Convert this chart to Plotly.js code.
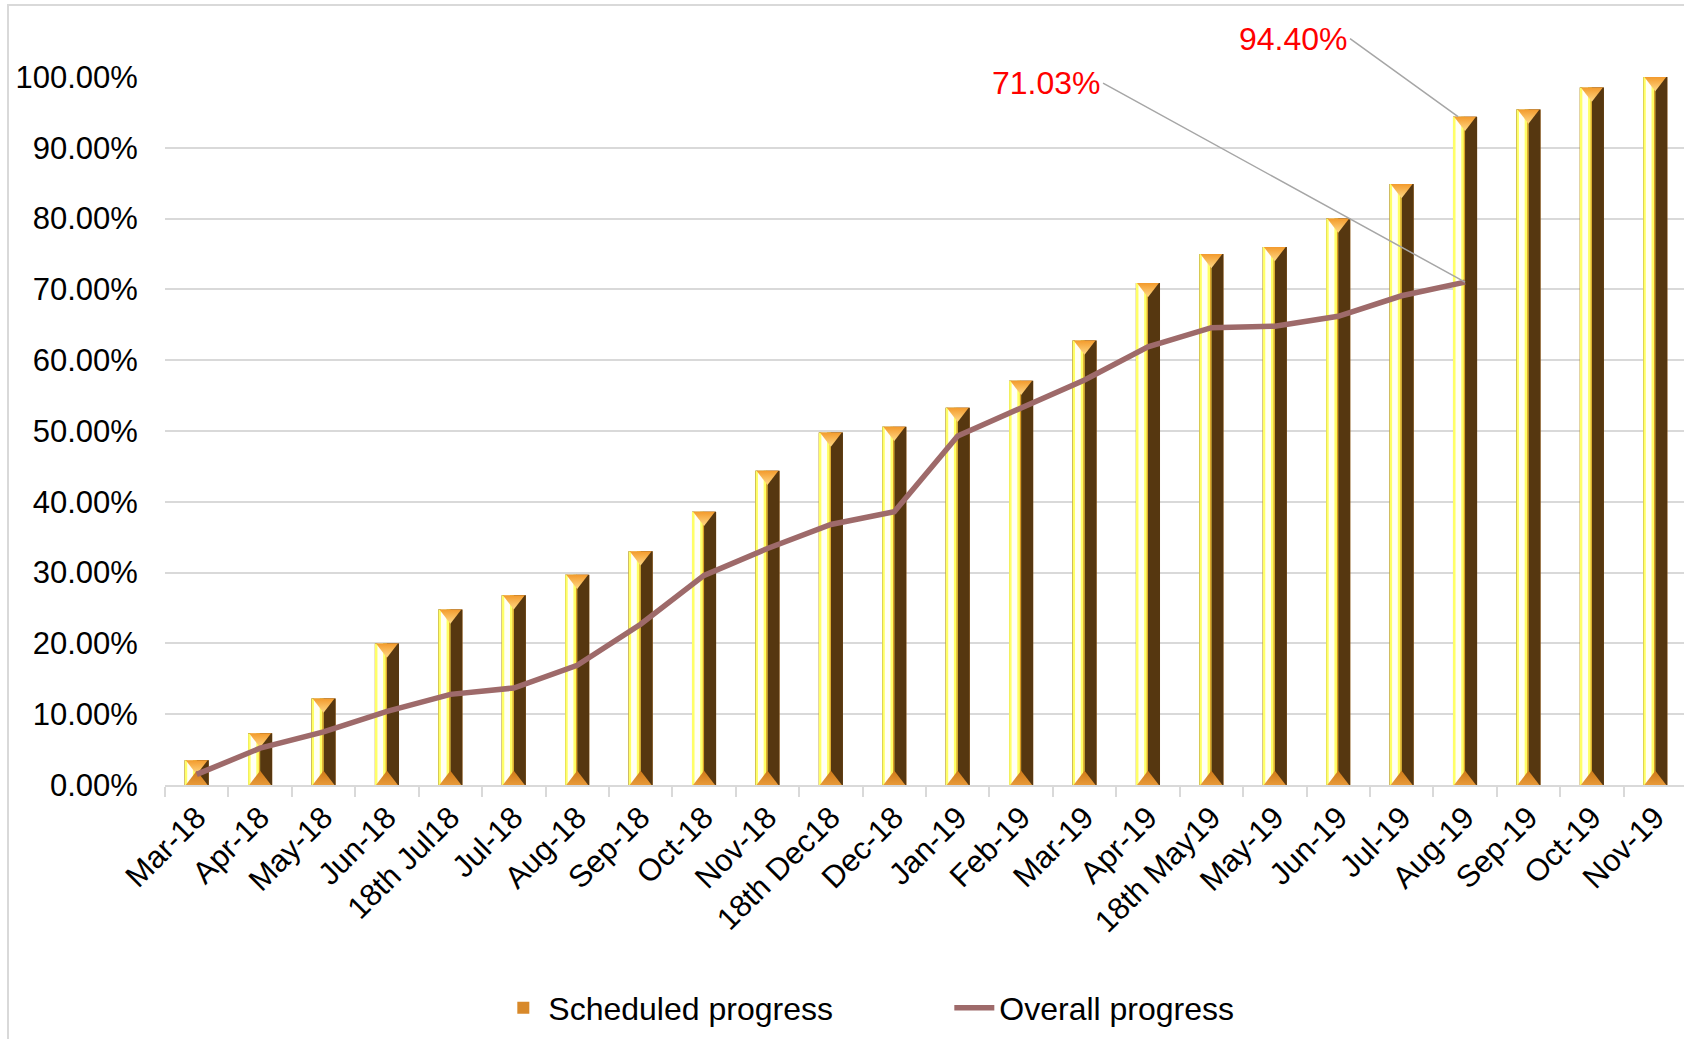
<!DOCTYPE html>
<html>
<head>
<meta charset="utf-8">
<script src="https://cdn.plot.ly/plotly-3.0.1.min.js"></script>
<style>
  html, body { margin: 0; padding: 0; background: #ffffff; overflow: hidden; }
  #chart { position: absolute; left: 0; top: 0; width: 1690px; height: 1039px; }
  #frame { position: absolute; left: 7px; top: 4px; width: 1700px; height: 1100px;
           border: 2px solid #d9d9d9; pointer-events: none; box-sizing: border-box; }
</style>
</head>
<body>
<div id="chart"></div>
<div id="frame"></div>
<script>
// ---- data ----
const categories = ["Mar-18","Apr-18","May-18","Jun-18","18th Jul18","Jul-18","Aug-18","Sep-18",
  "Oct-18","Nov-18","18th Dec18","Dec-18","Jan-19","Feb-19","Mar-19","Apr-19","18th May19",
  "May-19","Jun-19","Jul-19","Aug-19","Sep-19","Oct-19","Nov-19"];

const scheduledProgress = [0.035, 0.073, 0.122, 0.200, 0.248, 0.268, 0.297, 0.330, 0.386, 0.444,
  0.498, 0.506, 0.533, 0.571, 0.628, 0.709, 0.750, 0.760, 0.800, 0.849, 0.944, 0.954, 0.985, 1.000];

const overallProgress = [0.015, 0.052, 0.075, 0.104, 0.128, 0.137, 0.169, 0.227, 0.296, 0.334,
  0.368, 0.386, 0.493, 0.533, 0.572, 0.619, 0.646, 0.648, 0.662, 0.691, 0.7103];

const overallCategories = categories.slice(0, overallProgress.length);
const zeros = categories.map(() => 0);

const yTickVals = [0, 0.1, 0.2, 0.3, 0.4, 0.5, 0.6, 0.7, 0.8, 0.9, 1.0];

const FONT = '"Liberation Sans", Arial, "DejaVu Sans", sans-serif';
const BW = 0.38;   // bar width in category units
const CAP = 19;    // bevel triangle marker size

const traces = [
  // legend carrier (orange), hidden under the other layers
  { type: 'bar', x: categories, y: scheduledProgress, name: 'Scheduled progress',
    width: BW, marker: { color: '#d8892a', line: { width: 0 } }, hoverinfo: 'skip' },
  // dark right face
  { type: 'bar', x: categories, y: scheduledProgress, showlegend: false,
    width: BW, marker: { color: '#563710', line: { width: 0 } }, hoverinfo: 'skip' },
  // yellow left face
  { type: 'bar', x: categories, y: scheduledProgress, showlegend: false,
    width: BW / 2, offset: -BW / 2, marker: { color: '#ffff66', line: { width: 0 } }, hoverinfo: 'skip' },
  // white highlight
  { type: 'bar', x: categories, y: scheduledProgress, showlegend: false,
    width: 0.09, offset: -BW / 2 + 0.04, marker: { color: '#fffff6', line: { width: 0 } }, hoverinfo: 'skip' },
  // gold seam
  { type: 'bar', x: categories, y: scheduledProgress, showlegend: false,
    width: 0.018, offset: -0.02, marker: { color: '#d99a24', line: { width: 0 } }, hoverinfo: 'skip' },
  // top bevel (triangle pointing down from bar top)
  { type: 'scatter', mode: 'markers', x: categories, y: scheduledProgress, showlegend: false,
    cliponaxis: false, hoverinfo: 'skip',
    marker: { symbol: 'triangle-down', angle: 0, standoff: CAP / 4, size: CAP,
              color: '#f39a2c', gradient: { type: 'vertical', color: '#ffd884' },
              line: { width: 0 } } },
  // bottom bevel (triangle pointing up from base)
  { type: 'scatter', mode: 'markers', x: categories, y: zeros, showlegend: false,
    cliponaxis: false, hoverinfo: 'skip',
    marker: { symbol: 'triangle-down', angle: 180, standoff: CAP / 4, size: CAP,
              color: '#cf7a18', gradient: { type: 'vertical', color: '#e89a3a' },
              line: { width: 0 } } },
  // overall progress line
  { type: 'scatter', mode: 'lines', x: overallCategories, y: overallProgress,
    name: 'Overall progress', line: { color: '#9e6a6a', width: 5.5 }, cliponaxis: false }
];

const layout = {
  width: 1690, height: 1039,
  margin: { l: 165, r: 3, t: 77, b: 251 },
  paper_bgcolor: 'rgba(0,0,0,0)', plot_bgcolor: '#ffffff',
  font: { family: FONT, color: '#000000', size: 30 },
  barmode: 'overlay',
  showlegend: true,
  xaxis: {
    type: 'category', categoryorder: 'array', categoryarray: categories,
    range: [-0.5, categories.length - 0.5],
    tickangle: -45, tickfont: { family: FONT, size: 31, color: '#000000' },
    showline: true, linecolor: '#d9d9d9', linewidth: 2,
    ticks: 'outside', tickson: 'boundaries', ticklen: 10, tickcolor: '#d9d9d9', tickwidth: 2,
    showgrid: false, zeroline: false, fixedrange: true
  },
  yaxis: {
    range: [0, 1.0], tickvals: yTickVals, tickformat: '.2%',
    tickfont: { family: FONT, size: 31, color: '#000000' },
    showgrid: true, gridcolor: '#d9d9d9', gridwidth: 2,
    zeroline: false, showline: false,
    ticks: 'outside', ticklen: 20, tickcolor: 'rgba(0,0,0,0)', fixedrange: true
  },
  legend: {
    orientation: 'h', x: 0.219, xanchor: 'left', y: -0.315, yanchor: 'middle',
    font: { family: FONT, size: 32, color: '#000000' },
    bgcolor: 'rgba(0,0,0,0)', itemwidth: 40, entrywidth: 396, entrywidthmode: 'pixels'
  },
  annotations: [
    { x: 'Aug-19', y: 0.7103, xref: 'x', yref: 'y', text: '71.03%',
      showarrow: true, arrowhead: 0, arrowwidth: 1.5, arrowcolor: '#a6a6a6',
      ax: -362, ay: -199, xanchor: 'right', yanchor: 'middle',
      font: { family: FONT, size: 32, color: '#ff0000' } },
    { x: 'Aug-19', y: 0.944, xref: 'x', yref: 'y', text: '94.40%',
      showarrow: true, arrowhead: 0, arrowwidth: 1.5, arrowcolor: '#a6a6a6',
      ax: -108, ay: -78, xshift: -7, xanchor: 'right', yanchor: 'middle',
      font: { family: FONT, size: 32, color: '#ff0000' } }
  ]
};

Plotly.newPlot('chart', traces, layout, { displayModeBar: false, staticPlot: true });
</script>
</body>
</html>
